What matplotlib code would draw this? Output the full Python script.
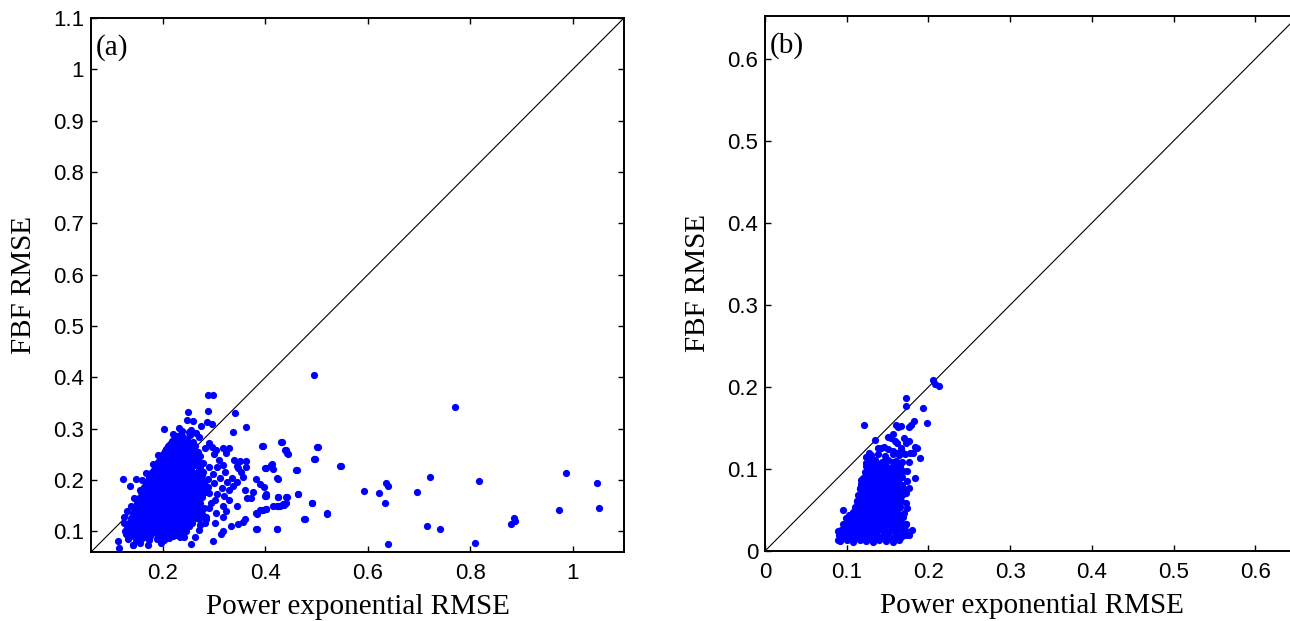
import matplotlib
matplotlib.use("Agg")
import matplotlib.pyplot as plt
import numpy as np

# panel (a): dense core of the cloud, (x = power exponential RMSE, y = FBF RMSE)
A_CORE = [
    (0.142, 0.074), (0.156, 0.077), (0.171, 0.073),
    (0.133, 0.086), (0.147, 0.083), (0.160, 0.087), (0.174, 0.084), (0.188, 0.086), (0.203, 0.083),
    (0.128, 0.096), (0.140, 0.094), (0.152, 0.097), (0.165, 0.093), (0.178, 0.096), (0.190, 0.094),
    (0.203, 0.097), (0.216, 0.095), (0.229, 0.093),
    (0.131, 0.106), (0.143, 0.104), (0.155, 0.107), (0.167, 0.103), (0.180, 0.106), (0.192, 0.104),
    (0.205, 0.107), (0.217, 0.104), (0.230, 0.106), (0.244, 0.103),
    (0.134, 0.116), (0.146, 0.114), (0.158, 0.117), (0.170, 0.113), (0.182, 0.116), (0.195, 0.114),
    (0.207, 0.117), (0.219, 0.114), (0.232, 0.116), (0.245, 0.113), (0.258, 0.117),
    (0.139, 0.126), (0.151, 0.124), (0.163, 0.127), (0.175, 0.123), (0.187, 0.126), (0.199, 0.124),
    (0.211, 0.127), (0.223, 0.124), (0.236, 0.126), (0.249, 0.123), (0.262, 0.127),
    (0.141, 0.136), (0.153, 0.134), (0.164, 0.137), (0.176, 0.133), (0.188, 0.136), (0.200, 0.134),
    (0.212, 0.137), (0.224, 0.134), (0.236, 0.136), (0.249, 0.133), (0.262, 0.137), (0.276, 0.134),
    (0.146, 0.146), (0.158, 0.144), (0.169, 0.147), (0.181, 0.143), (0.193, 0.146), (0.205, 0.144),
    (0.217, 0.147), (0.229, 0.144), (0.241, 0.146), (0.253, 0.143), (0.266, 0.147),
    (0.150, 0.156), (0.162, 0.154), (0.174, 0.157), (0.186, 0.153), (0.198, 0.156), (0.210, 0.154),
    (0.222, 0.157), (0.234, 0.154), (0.246, 0.156), (0.259, 0.153), (0.273, 0.156),
    (0.154, 0.166), (0.166, 0.164), (0.178, 0.167), (0.190, 0.163), (0.202, 0.166), (0.214, 0.164),
    (0.226, 0.167), (0.238, 0.164), (0.250, 0.166), (0.263, 0.163), (0.277, 0.167),
    (0.158, 0.176), (0.170, 0.174), (0.182, 0.177), (0.194, 0.173), (0.206, 0.176), (0.218, 0.174),
    (0.230, 0.177), (0.242, 0.174), (0.255, 0.176), (0.268, 0.173), (0.283, 0.177),
    (0.163, 0.186), (0.175, 0.184), (0.187, 0.187), (0.199, 0.183), (0.211, 0.186), (0.223, 0.184),
    (0.235, 0.187), (0.247, 0.184), (0.260, 0.186), (0.273, 0.183), (0.289, 0.186),
    (0.167, 0.196), (0.179, 0.194), (0.191, 0.197), (0.203, 0.193), (0.215, 0.196), (0.227, 0.194),
    (0.239, 0.197), (0.252, 0.194), (0.265, 0.196), (0.279, 0.193),
    (0.174, 0.206), (0.186, 0.204), (0.198, 0.207), (0.210, 0.203), (0.222, 0.206), (0.234, 0.204),
    (0.246, 0.207), (0.259, 0.204), (0.273, 0.206), (0.288, 0.203),
    (0.179, 0.216), (0.191, 0.214), (0.203, 0.217), (0.215, 0.213), (0.227, 0.216), (0.239, 0.214),
    (0.251, 0.217), (0.264, 0.214), (0.279, 0.216),
    (0.185, 0.226), (0.197, 0.224), (0.209, 0.227), (0.221, 0.223), (0.233, 0.226), (0.245, 0.224),
    (0.258, 0.227), (0.272, 0.224), (0.290, 0.226),
    (0.190, 0.236), (0.202, 0.234), (0.214, 0.237), (0.226, 0.233), (0.238, 0.236), (0.250, 0.234),
    (0.263, 0.237), (0.278, 0.234),
    (0.197, 0.246), (0.209, 0.244), (0.221, 0.247), (0.233, 0.243), (0.245, 0.246), (0.258, 0.244),
    (0.272, 0.247),
    (0.204, 0.256), (0.217, 0.254), (0.229, 0.257), (0.241, 0.253), (0.254, 0.256), (0.268, 0.254),
    (0.210, 0.266), (0.222, 0.264), (0.235, 0.267), (0.248, 0.263), (0.262, 0.266),
    (0.219, 0.276), (0.232, 0.274), (0.245, 0.277), (0.259, 0.274),
    (0.227, 0.286), (0.240, 0.284), (0.254, 0.287),
    (0.238, 0.296), (0.251, 0.294),
]

# panel (a): more points packed in between the core ones
A_FILL = [
    (0.137, 0.091), (0.150, 0.089), (0.163, 0.090), (0.176, 0.091), (0.190, 0.089), (0.205, 0.090),
    (0.220, 0.091),
    (0.134, 0.100), (0.146, 0.101), (0.159, 0.099), (0.171, 0.100), (0.184, 0.101), (0.197, 0.099),
    (0.210, 0.100), (0.223, 0.101), (0.236, 0.099),
    (0.137, 0.110), (0.149, 0.111), (0.161, 0.109), (0.174, 0.110), (0.186, 0.111), (0.199, 0.109),
    (0.211, 0.110), (0.224, 0.111), (0.238, 0.109), (0.251, 0.110),
    (0.140, 0.120), (0.152, 0.121), (0.164, 0.119), (0.176, 0.120), (0.188, 0.121), (0.201, 0.119),
    (0.213, 0.120), (0.226, 0.121), (0.239, 0.119), (0.252, 0.120),
    (0.145, 0.130), (0.157, 0.131), (0.169, 0.129), (0.181, 0.130), (0.193, 0.131), (0.205, 0.129),
    (0.217, 0.130), (0.230, 0.131), (0.243, 0.129), (0.256, 0.130), (0.269, 0.131),
    (0.147, 0.140), (0.159, 0.141), (0.170, 0.139), (0.182, 0.140), (0.194, 0.141), (0.206, 0.139),
    (0.218, 0.140), (0.230, 0.141), (0.242, 0.139), (0.255, 0.140), (0.268, 0.141),
    (0.152, 0.150), (0.164, 0.151), (0.175, 0.149), (0.187, 0.150), (0.199, 0.151), (0.211, 0.149),
    (0.223, 0.150), (0.235, 0.151), (0.247, 0.149), (0.260, 0.150),
    (0.156, 0.160), (0.168, 0.161), (0.180, 0.159), (0.192, 0.160), (0.204, 0.161), (0.216, 0.159),
    (0.228, 0.160), (0.240, 0.161), (0.253, 0.159), (0.266, 0.160),
    (0.160, 0.170), (0.172, 0.171), (0.184, 0.169), (0.196, 0.170), (0.208, 0.171), (0.220, 0.169),
    (0.232, 0.170), (0.244, 0.171), (0.257, 0.169), (0.270, 0.170),
    (0.164, 0.180), (0.176, 0.181), (0.188, 0.179), (0.200, 0.180), (0.212, 0.181), (0.224, 0.179),
    (0.236, 0.180), (0.249, 0.181), (0.262, 0.179), (0.276, 0.180),
    (0.169, 0.190), (0.181, 0.191), (0.193, 0.189), (0.205, 0.190), (0.217, 0.191), (0.229, 0.189),
    (0.241, 0.190), (0.254, 0.191), (0.267, 0.189), (0.281, 0.190),
    (0.173, 0.200), (0.185, 0.201), (0.197, 0.199), (0.209, 0.200), (0.221, 0.201), (0.233, 0.199),
    (0.246, 0.200), (0.259, 0.201), (0.272, 0.199),
    (0.177, 0.210), (0.189, 0.211), (0.201, 0.209), (0.213, 0.210), (0.225, 0.211), (0.237, 0.209),
    (0.250, 0.210), (0.263, 0.211), (0.276, 0.209),
    (0.183, 0.220), (0.195, 0.221), (0.207, 0.219), (0.219, 0.220), (0.231, 0.221), (0.243, 0.219),
    (0.256, 0.220), (0.270, 0.221),
    (0.188, 0.230), (0.200, 0.231), (0.212, 0.229), (0.224, 0.230), (0.236, 0.231), (0.248, 0.229),
    (0.261, 0.230), (0.275, 0.231),
    (0.194, 0.240), (0.206, 0.241), (0.218, 0.239), (0.230, 0.240), (0.242, 0.241), (0.255, 0.239),
    (0.268, 0.240),
    (0.201, 0.250), (0.213, 0.251), (0.225, 0.249), (0.237, 0.250), (0.249, 0.251), (0.262, 0.249),
    (0.207, 0.260), (0.219, 0.261), (0.231, 0.259), (0.244, 0.260), (0.257, 0.261),
    (0.215, 0.270), (0.227, 0.271), (0.240, 0.269), (0.253, 0.270),
    (0.222, 0.280), (0.235, 0.281), (0.248, 0.279),
]

# panel (a): points around the edge of the cloud
A_SPREAD = [
    (0.288, 0.366), (0.298, 0.366), (0.250, 0.333), (0.289, 0.335), (0.259, 0.315),
    (0.203, 0.299), (0.248, 0.318), (0.255, 0.298), (0.265, 0.291), (0.340, 0.330),
    (0.363, 0.304), (0.337, 0.293), (0.286, 0.314), (0.297, 0.309), (0.220, 0.290),
    (0.236, 0.290), (0.122, 0.203), (0.147, 0.202), (0.136, 0.189), (0.396, 0.267),
    (0.432, 0.274), (0.440, 0.258), (0.445, 0.251), (0.502, 0.265), (0.497, 0.241),
    (0.548, 0.228), (0.462, 0.219), (0.414, 0.231), (0.401, 0.224), (0.425, 0.203),
    (0.464, 0.173), (0.441, 0.167), (0.425, 0.167), (0.401, 0.169), (0.381, 0.203),
    (0.390, 0.192), (0.397, 0.186), (0.401, 0.173), (0.377, 0.177), (0.372, 0.166),
    (0.362, 0.225), (0.363, 0.238), (0.350, 0.237), (0.339, 0.239), (0.324, 0.252),
    (0.330, 0.262), (0.317, 0.262), (0.304, 0.259), (0.291, 0.272), (0.347, 0.223),
    (0.353, 0.215), (0.357, 0.207), (0.344, 0.197), (0.337, 0.188), (0.330, 0.181),
    (0.360, 0.181), (0.364, 0.165), (0.330, 0.162), (0.344, 0.149), (0.317, 0.149),
    (0.324, 0.139), (0.301, 0.162), (0.290, 0.145), (0.303, 0.136), (0.317, 0.129),
    (0.415, 0.150), (0.425, 0.150), (0.435, 0.154), (0.441, 0.156), (0.396, 0.142),
    (0.401, 0.143), (0.389, 0.141), (0.383, 0.134), (0.361, 0.124), (0.357, 0.118),
    (0.347, 0.115), (0.383, 0.105), (0.422, 0.105), (0.477, 0.124), (0.521, 0.134),
    (0.492, 0.155), (0.334, 0.110), (0.317, 0.100), (0.314, 0.095), (0.298, 0.082),
    (0.256, 0.076), (0.283, 0.116), (0.272, 0.112), (0.301, 0.116), (0.270, 0.124),
    (0.285, 0.129), (0.259, 0.132), (0.252, 0.110), (0.246, 0.100), (0.242, 0.090),
    (0.233, 0.090), (0.226, 0.094), (0.216, 0.100), (0.213, 0.087), (0.197, 0.077),
    (0.190, 0.090), (0.112, 0.082), (0.115, 0.068), (0.141, 0.074), (0.151, 0.081),
    (0.135, 0.090), (0.127, 0.100), (0.300, 0.250), (0.310, 0.240), (0.305, 0.225),
    (0.318, 0.230), (0.296, 0.265), (0.312, 0.205), (0.322, 0.215), (0.300, 0.195),
    (0.315, 0.185), (0.290, 0.175), (0.305, 0.172), (0.320, 0.170), (0.335, 0.205),
    (0.345, 0.228), (0.295, 0.155), (0.280, 0.145), (0.285, 0.125), (0.270, 0.102),
    (0.262, 0.090), (0.275, 0.138), (0.298, 0.212), (0.326, 0.196), (0.282, 0.198),
    (0.270, 0.283), (0.283, 0.262), (0.275, 0.305), (0.231, 0.301), (0.190, 0.248),
    (0.180, 0.232), (0.168, 0.213), (0.160, 0.200), (0.155, 0.180), (0.144, 0.165),
    (0.138, 0.150), (0.131, 0.140), (0.124, 0.128), (0.125, 0.116),
]

# panel (a): isolated points far to the right
A_FAR = [
    (0.496, 0.404), (0.771, 0.342), (0.500, 0.265), (0.495, 0.242), (0.546, 0.228),
    (0.460, 0.219), (0.431, 0.275), (0.439, 0.258), (0.443, 0.252), (0.394, 0.267),
    (0.412, 0.230), (0.415, 0.221), (0.399, 0.224), (0.423, 0.204), (0.463, 0.173),
    (0.442, 0.167), (0.424, 0.167), (0.399, 0.170), (0.436, 0.152), (0.429, 0.149),
    (0.422, 0.149), (0.401, 0.144), (0.393, 0.142), (0.382, 0.135), (0.492, 0.155),
    (0.475, 0.124), (0.520, 0.135), (0.422, 0.105), (0.381, 0.105), (0.593, 0.178),
    (0.621, 0.174), (0.636, 0.194), (0.639, 0.189), (0.634, 0.155), (0.639, 0.075),
    (0.696, 0.176), (0.722, 0.206), (0.716, 0.110), (0.740, 0.104), (0.817, 0.199),
    (0.810, 0.078), (0.886, 0.126), (0.887, 0.121), (0.880, 0.115), (0.986, 0.213),
    (0.973, 0.142), (1.048, 0.195), (1.052, 0.145),
]

# panel (b): dense core
B_CORE = [
    (0.092, 0.012), (0.100, 0.013), (0.108, 0.011), (0.116, 0.013), (0.124, 0.012), (0.132, 0.011),
    (0.140, 0.013), (0.148, 0.012), (0.156, 0.011), (0.164, 0.013),
    (0.090, 0.019), (0.098, 0.020), (0.106, 0.018), (0.113, 0.020), (0.121, 0.019), (0.129, 0.018),
    (0.137, 0.020), (0.145, 0.019), (0.152, 0.018), (0.160, 0.020), (0.168, 0.019), (0.176, 0.020),
    (0.093, 0.026), (0.101, 0.027), (0.109, 0.025), (0.117, 0.027), (0.124, 0.026), (0.132, 0.025),
    (0.140, 0.027), (0.147, 0.026), (0.155, 0.025), (0.163, 0.027), (0.171, 0.026),
    (0.096, 0.033), (0.104, 0.034), (0.111, 0.032), (0.119, 0.034), (0.127, 0.033), (0.134, 0.032),
    (0.142, 0.034), (0.150, 0.033), (0.158, 0.032), (0.166, 0.034), (0.173, 0.033),
    (0.099, 0.040), (0.107, 0.041), (0.114, 0.039), (0.122, 0.041), (0.130, 0.040), (0.138, 0.039),
    (0.145, 0.041), (0.153, 0.040), (0.161, 0.039), (0.169, 0.041),
    (0.108, 0.047), (0.116, 0.048), (0.124, 0.046), (0.131, 0.048), (0.139, 0.047), (0.147, 0.046),
    (0.155, 0.048), (0.162, 0.047), (0.170, 0.046),
    (0.110, 0.054), (0.118, 0.055), (0.126, 0.053), (0.133, 0.055), (0.141, 0.054), (0.149, 0.053),
    (0.157, 0.055), (0.165, 0.054),
    (0.112, 0.061), (0.119, 0.062), (0.127, 0.060), (0.135, 0.062), (0.143, 0.061), (0.150, 0.060),
    (0.158, 0.062), (0.166, 0.061),
    (0.114, 0.068), (0.121, 0.069), (0.129, 0.067), (0.137, 0.069), (0.145, 0.068), (0.152, 0.067),
    (0.160, 0.069), (0.168, 0.068),
    (0.116, 0.075), (0.123, 0.076), (0.131, 0.074), (0.139, 0.076), (0.146, 0.075), (0.154, 0.074),
    (0.162, 0.076), (0.170, 0.075),
    (0.118, 0.082), (0.126, 0.083), (0.133, 0.081), (0.141, 0.083), (0.149, 0.082), (0.156, 0.081),
    (0.164, 0.083),
    (0.120, 0.089), (0.128, 0.090), (0.136, 0.088), (0.143, 0.090), (0.151, 0.089), (0.159, 0.088),
    (0.167, 0.090),
    (0.122, 0.096), (0.130, 0.097), (0.138, 0.095), (0.146, 0.097), (0.153, 0.096), (0.161, 0.095),
    (0.169, 0.097),
    (0.124, 0.103), (0.132, 0.104), (0.140, 0.102), (0.148, 0.104), (0.156, 0.103), (0.165, 0.102),
    (0.127, 0.110), (0.135, 0.111), (0.143, 0.109), (0.151, 0.111), (0.160, 0.110), (0.168, 0.109),
    (0.130, 0.117), (0.138, 0.118), (0.147, 0.116), (0.156, 0.118), (0.164, 0.117),
]

# panel (b): more points packed in between the core ones
B_FILL = [
    (0.094, 0.016), (0.102, 0.015), (0.110, 0.016), (0.118, 0.017), (0.126, 0.015), (0.134, 0.016),
    (0.142, 0.017), (0.150, 0.015), (0.158, 0.016), (0.166, 0.017),
    (0.096, 0.023), (0.104, 0.022), (0.112, 0.023), (0.120, 0.024), (0.128, 0.022), (0.136, 0.023),
    (0.144, 0.024), (0.151, 0.022), (0.159, 0.023), (0.167, 0.024),
    (0.099, 0.030), (0.107, 0.029), (0.115, 0.030), (0.122, 0.031), (0.130, 0.029), (0.138, 0.030),
    (0.146, 0.031), (0.154, 0.029), (0.162, 0.030), (0.170, 0.031),
    (0.102, 0.037), (0.110, 0.036), (0.118, 0.037), (0.126, 0.038), (0.134, 0.036), (0.142, 0.037),
    (0.149, 0.038), (0.157, 0.036), (0.165, 0.037),
    (0.106, 0.044), (0.112, 0.043), (0.120, 0.044), (0.128, 0.045), (0.135, 0.043), (0.143, 0.044),
    (0.151, 0.045), (0.159, 0.043), (0.166, 0.044),
    (0.112, 0.051), (0.120, 0.050), (0.128, 0.051), (0.137, 0.052), (0.145, 0.050), (0.153, 0.051),
    (0.161, 0.052),
    (0.115, 0.058), (0.122, 0.057), (0.130, 0.058), (0.138, 0.059), (0.146, 0.057), (0.154, 0.058),
    (0.162, 0.059),
    (0.117, 0.065), (0.125, 0.064), (0.133, 0.065), (0.141, 0.066), (0.149, 0.064), (0.156, 0.065),
    (0.164, 0.066),
    (0.119, 0.072), (0.127, 0.071), (0.135, 0.072), (0.142, 0.073), (0.150, 0.071), (0.158, 0.072),
    (0.166, 0.073),
    (0.121, 0.079), (0.129, 0.078), (0.137, 0.079), (0.145, 0.080), (0.152, 0.078), (0.160, 0.079),
    (0.167, 0.080),
    (0.124, 0.086), (0.132, 0.085), (0.140, 0.086), (0.147, 0.087), (0.155, 0.085), (0.163, 0.086),
    (0.126, 0.093), (0.134, 0.092), (0.142, 0.093), (0.150, 0.094), (0.157, 0.092), (0.165, 0.093),
    (0.128, 0.100), (0.136, 0.099), (0.144, 0.100), (0.152, 0.101), (0.160, 0.099),
    (0.131, 0.107), (0.139, 0.106), (0.147, 0.107), (0.156, 0.108), (0.164, 0.106),
]

# panel (b): scattered points around the core
B_SPREAD = [
    (0.206, 0.208), (0.208, 0.203), (0.213, 0.201), (0.173, 0.186), (0.173, 0.177),
    (0.193, 0.174), (0.121, 0.153), (0.182, 0.159), (0.198, 0.156), (0.176, 0.151),
    (0.179, 0.154), (0.160, 0.154), (0.163, 0.151), (0.166, 0.152), (0.157, 0.142),
    (0.154, 0.138), (0.150, 0.139), (0.159, 0.134), (0.135, 0.135), (0.170, 0.138),
    (0.176, 0.134), (0.183, 0.127), (0.186, 0.126), (0.162, 0.132), (0.172, 0.132),
    (0.166, 0.126), (0.138, 0.126), (0.142, 0.125), (0.146, 0.127), (0.150, 0.124),
    (0.156, 0.122), (0.161, 0.120), (0.167, 0.121), (0.171, 0.118), (0.177, 0.119),
    (0.181, 0.120), (0.190, 0.113), (0.176, 0.109), (0.183, 0.089), (0.174, 0.098),
    (0.174, 0.085), (0.176, 0.077), (0.172, 0.071), (0.172, 0.058), (0.174, 0.052),
    (0.173, 0.033), (0.180, 0.026), (0.172, 0.020), (0.095, 0.050), (0.089, 0.013),
    (0.092, 0.020), (0.089, 0.024), (0.117, 0.086), (0.116, 0.077), (0.112, 0.061),
    (0.115, 0.051), (0.103, 0.044), (0.107, 0.033), (0.123, 0.115), (0.127, 0.120),
    (0.124, 0.107), (0.125, 0.098), (0.129, 0.102), (0.133, 0.108),
]

A_XTICKS = [0.2, 0.4, 0.6, 0.8, 1.0]
A_XLABELS = ["0.2", "0.4", "0.6", "0.8", "1"]
A_YTICKS = [0.1, 0.2, 0.3, 0.4, 0.5, 0.6, 0.7, 0.8, 0.9, 1.0, 1.1]
A_YLABELS = ["0.1", "0.2", "0.3", "0.4", "0.5", "0.6", "0.7", "0.8", "0.9", "1", "1.1"]
B_TICKS = [0.0, 0.1, 0.2, 0.3, 0.4, 0.5, 0.6]
B_LABELS = ["0", "0.1", "0.2", "0.3", "0.4", "0.5", "0.6"]

BLUE = "#0000ff"
SERIF = ["Liberation Serif", "DejaVu Serif"]
SANS = ["Liberation Sans", "DejaVu Sans"]


def style_axes(ax, lims, xticks, xlabels, yticks, ylabels, tag):
    ax.set_xlim(*lims)
    ax.set_ylim(*lims)
    ax.plot(lims, lims, color="black", lw=0.8, zorder=1)
    ax.set_xticks(xticks)
    ax.set_xticklabels(xlabels, fontfamily=SANS, fontsize=16)
    ax.set_yticks(yticks)
    ax.set_yticklabels(ylabels, fontfamily=SANS, fontsize=16)
    ax.tick_params(direction="in", top=True, right=True, length=4, width=1.0)
    ax.tick_params(axis="x", pad=8)
    ax.tick_params(axis="y", pad=5)
    for sp in ax.spines.values():
        sp.set_linewidth(1.4)
    ax.set_xlabel("Power exponential RMSE", fontfamily=SERIF, fontsize=21)
    ax.set_ylabel("FBF RMSE", fontfamily=SERIF, fontsize=21)
    ax.xaxis.set_label_coords(0.5, -0.078)
    ax.yaxis.set_label_coords(-0.102, 0.5)
    ax.text(0.008, 0.944, tag, transform=ax.transAxes, ha="left", va="center",
            fontfamily=SERIF, fontsize=21)


def main():
    fig = plt.figure(figsize=(12.9, 6.21), dpi=100)
    ax_a = fig.add_axes([91 / 1290, 69 / 621, 533 / 1290, 534 / 621])
    ax_b = fig.add_axes([765 / 1290, 70 / 621, 533 / 1290, 535 / 621])

    for pts in (A_CORE, A_FILL, A_SPREAD, A_FAR):
        x, y = np.array(pts).T
        ax_a.scatter(x, y, s=27, color=BLUE, linewidths=0, zorder=2)
    style_axes(ax_a, (0.06, 1.1), A_XTICKS, A_XLABELS, A_YTICKS, A_YLABELS, "(a)")

    for pts in (B_CORE, B_FILL, B_SPREAD):
        x, y = np.array(pts).T
        ax_b.scatter(x, y, s=27, color=BLUE, linewidths=0, zorder=2)
    style_axes(ax_b, (0.0, 0.652), B_TICKS, B_LABELS, B_TICKS, B_LABELS, "(b)")

    fig.savefig("out.png", dpi=100)
    plt.close(fig)


if __name__ == "__main__":
    main()
